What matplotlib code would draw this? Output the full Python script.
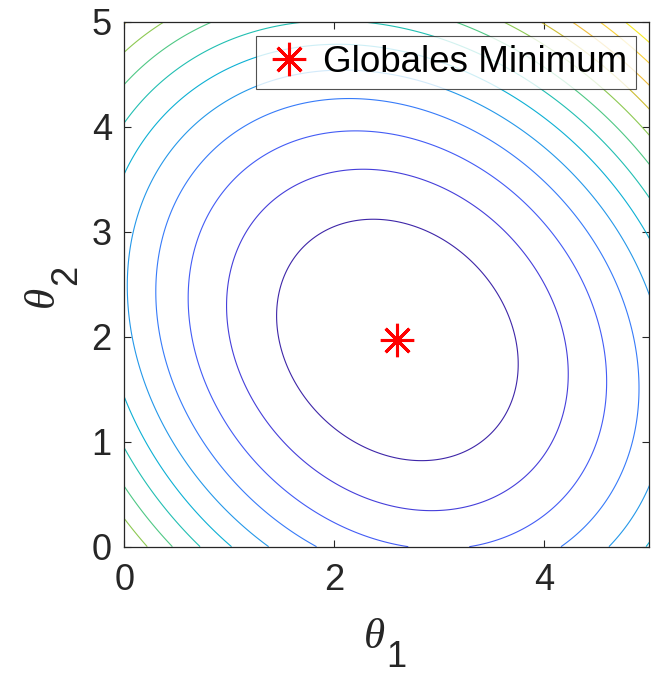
import numpy as np
import matplotlib.pyplot as plt
from matplotlib.colors import LinearSegmentedColormap

# cost surface parameters
theta_min = [2.6, 1.97]          # location of the global minimum
hess = [1.0, 0.2, 1.0]           # a, b, c of a*dx^2 + 2b*dx*dy + c*dy^2
level_step = 1.27
n_levels = 14

x_ticks = [0, 2, 4]
y_ticks = [0, 1, 2, 3, 4, 5]

# parula anchor colours
parula = LinearSegmentedColormap.from_list("parula", [
    (0.2422, 0.1504, 0.6603),
    (0.2803, 0.2782, 0.9221),
    (0.2440, 0.4358, 0.9988),
    (0.1540, 0.5902, 0.9218),
    (0.0297, 0.7082, 0.8163),
    (0.1938, 0.7758, 0.6251),
    (0.5044, 0.7993, 0.3480),
    (0.8185, 0.7327, 0.1882),
    (0.9856, 0.7372, 0.2537),
    (0.9597, 0.8941, 0.1813),
    (0.9763, 0.9831, 0.0538),
])

plt.rcParams["font.family"] = ["Liberation Sans", "DejaVu Sans"]
dark = "#262626"

t1 = np.linspace(0, 5, 401)
t2 = np.linspace(0, 5, 401)
T1, T2 = np.meshgrid(t1, t2)
dx = T1 - theta_min[0]
dy = T2 - theta_min[1]
a, b, c = hess
J = a * dx**2 + 2 * b * dx * dy + c * dy**2

levels = level_step * np.arange(1, n_levels + 1)

W, H = 653, 676
fig = plt.figure(figsize=(W / 100, H / 100), dpi=100)
ax = fig.add_axes([0.1904, 0.1913, 0.8042, 0.7762])
ax.contour(T1, T2, J, levels=levels, cmap=parula,
           vmin=levels[0], vmax=levels[-1], linewidths=0.8)
ax.plot(theta_min[0], theta_min[1], linestyle="none", marker=(8, 2, 0),
        markersize=24, markeredgewidth=2.2, color="#ff0000",
        label="Globales Minimum")

ax.set_xlim(0, 5)
ax.set_ylim(0, 5)
ax.set_xticks(x_ticks)
ax.set_yticks(y_ticks)
ax.tick_params(direction="in", length=5, width=0.8, top=True, right=True,
               labelsize=26, colors=dark)
ax.tick_params(axis="x", pad=12)
ax.tick_params(axis="y", pad=9)
for s in ax.spines.values():
    s.set_color(dark)
    s.set_linewidth(0.9)


def px_text(x, y, s, **kw):
    fig.text(x / W, 1 - y / H, s, ha="left", va="baseline",
             rotation_mode="anchor", color=dark, **kw)


# axis labels: italic theta with a full-size upright subscript
theta_kw = dict(family="Liberation Serif", style="italic", fontsize=31)
px_text(364, 648, "θ", **theta_kw)
px_text(386, 667, "1", fontsize=26)
px_text(53, 307, "θ", rotation=90, **theta_kw)
px_text(76, 285, "2", rotation=90, fontsize=26)

leg = ax.legend(loc="upper right", fontsize=26.5, frameon=True, fancybox=False,
                handlelength=1.3, handletextpad=0.25, borderpad=0.25,
                borderaxespad=0.37)
leg.get_frame().set_edgecolor(dark)
leg.get_frame().set_linewidth(0.8)

fig.savefig("out.png", dpi=100)
